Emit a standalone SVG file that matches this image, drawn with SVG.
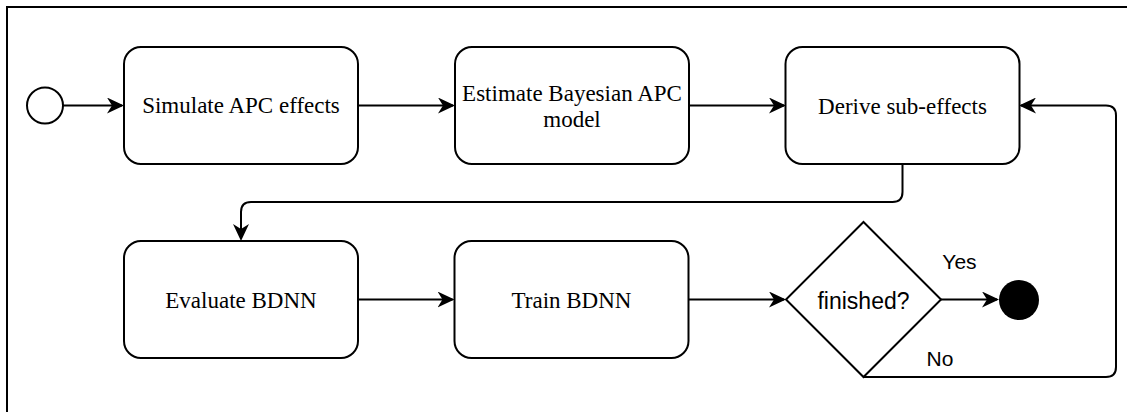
<svg xmlns="http://www.w3.org/2000/svg" width="1127" height="412" viewBox="0 0 1127 412">
<style>
.box{fill:#fff;stroke:#000;stroke-width:2}
.lbl{font-family:"Liberation Serif","Times New Roman",serif;font-size:23px;fill:#000;text-anchor:middle}
.sans{font-family:"Liberation Sans",Arial,sans-serif;fill:#000}
.edge{fill:none;stroke:#000;stroke-width:2;marker-end:url(#arr)}
</style>
<defs>
<marker id="arr" markerUnits="userSpaceOnUse" markerWidth="17" markerHeight="16" refX="15" refY="8" orient="auto" viewBox="0 0 17 16">
<path d="M0,0 L17,8 L0,16 L5,8 Z" fill="#000"/>
</marker>
</defs>
<rect width="1127" height="412" fill="#fff"/>
<path d="M7,412 L7,7 L1127,7" fill="none" stroke="#000" stroke-width="2"/>
<g id="connectors">
<path class="edge" d="M63,105.5 L122,105.5"/>
<path class="edge" d="M358,105.5 L453,105.5"/>
<path class="edge" d="M689,105.5 L784,105.5"/>
<path class="edge" d="M902.5,164 L902.5,192 Q902.5,202 892.5,202 L251,202 Q241,202 241,212 L241,239"/>
<path class="edge" d="M358,299.5 L452.5,299.5"/>
<path class="edge" d="M688,299.5 L784,299.5"/>
<path class="edge" d="M941,299.5 L997,299.5"/>
<path class="edge" d="M863.5,377 L1106,377 Q1116,377 1116,367 L1116,115.5 Q1116,105.5 1106,105.5 L1021,105.5"/>
</g>
<g id="start"><circle cx="45" cy="105.5" r="18" class="box"/></g>
<g id="simulate"><rect class="box" x="124" y="47" width="234" height="117" rx="17"/><text class="lbl" x="241" y="113">Simulate APC effects</text></g>
<g id="estimate"><rect class="box" x="455" y="47" width="234" height="117" rx="17"/><text class="lbl" x="572" y="101">Estimate Bayesian APC</text><text class="lbl" x="572" y="127">model</text></g>
<g id="derive"><rect class="box" x="785.5" y="47" width="234" height="117" rx="17"/><text class="lbl" x="902.5" y="113.5">Derive sub-effects</text></g>
<g id="evaluate"><rect class="box" x="124" y="241" width="234" height="117" rx="17"/><text class="lbl" x="241" y="308">Evaluate BDNN</text></g>
<g id="train"><rect class="box" x="454.5" y="241" width="234" height="117" rx="17"/><text class="lbl" x="571.5" y="308">Train BDNN</text></g>
<g id="decision"><polygon class="box" points="863.5,222 941,299.5 863.5,377 786,299.5"/><text class="sans" x="863.5" y="308.5" font-size="23" text-anchor="middle">finished?</text></g>
<g id="end"><circle cx="1019" cy="300" r="20" fill="#000"/></g>
<g id="labels"><text class="sans" x="959.5" y="269" font-size="21" text-anchor="middle">Yes</text><text class="sans" x="940" y="366" font-size="21" text-anchor="middle">No</text></g>
</svg>
